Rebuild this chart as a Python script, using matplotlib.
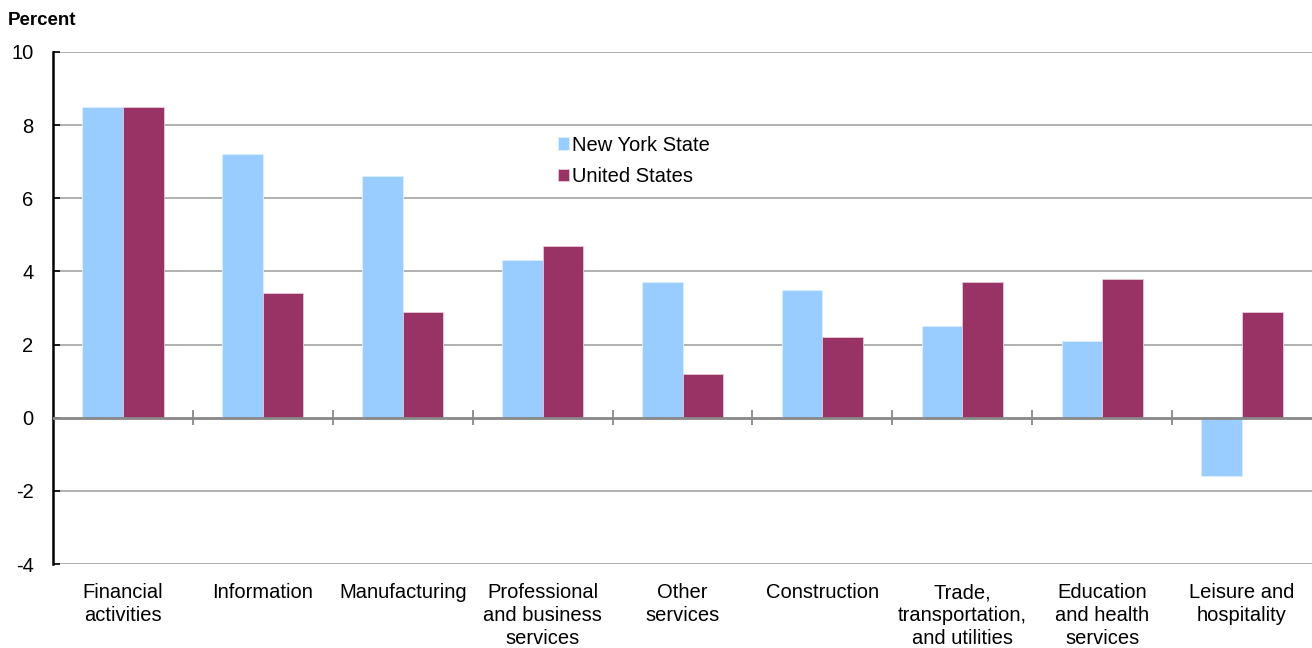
import numpy as np
import matplotlib.pyplot as plt

plt.rcParams['font.family'] = ['Liberation Sans', 'DejaVu Sans']

categories = ['Financial\nactivities', 'Information', 'Manufacturing',
              'Professional\nand business\nservices', 'Other\nservices',
              'Construction', 'Trade,\ntransportation,\nand utilities',
              'Education\nand health\nservices', 'Leisure and\nhospitality']
new_york = [8.5, 7.2, 6.6, 4.3, 3.7, 3.5, 2.5, 2.1, -1.6]
united_states = [8.5, 3.4, 2.9, 4.7, 1.2, 2.2, 3.7, 3.8, 2.9]
y_ticks = [-4, -2, 0, 2, 4, 6, 8, 10]

fig = plt.figure(figsize=(13.12, 6.48), dpi=100)
ax = fig.add_axes([0.0404, 0.1296, 0.9596, 0.7902])

x = np.arange(len(categories))
w = 0.29
ax.bar(x - w / 2, new_york, w, color='#99CCFF', edgecolor='#DDEEFF', linewidth=0.6,
       label='New York State', zorder=3)
ax.bar(x + w / 2, united_states, w, color='#993366', edgecolor='#E8C8D8', linewidth=0.6,
       label='United States', zorder=3)

ax.set_xlim(-0.5, len(categories) - 0.5)
ax.set_ylim(-4, 10)
ax.set_yticks(y_ticks)
ax.set_yticklabels([str(v) for v in y_ticks], fontsize=14.5)
ax.set_xticks(x)
ax.set_xticklabels(categories, fontsize=14.5, linespacing=1.25)
ax.tick_params(axis='x', length=0, pad=14)
ax.tick_params(axis='y', length=5, width=1.2, direction='in', pad=14)

for v in y_ticks:
    if v != 0:
        ax.axhline(v, color='#AAAAAA', linewidth=1.3, zorder=1)
ax.axhline(0, color='#888888', linewidth=2, zorder=4)
ax.vlines(x[1:] - 0.5, -0.2, 0.2, color='#888888', linewidth=1.3, zorder=4)

for s in ['top', 'right', 'bottom']:
    ax.spines[s].set_visible(False)
ax.spines['left'].set_linewidth(1.8)

fig.text(0.006, 0.968, 'Percent', fontsize=13.5, fontweight='bold', va='center')

ax.legend(loc='upper left', bbox_to_anchor=(0.387, 0.872), frameon=False, fontsize=14.5,
          handlelength=0.55, handleheight=0.55, handletextpad=0.15, labelspacing=0.62)

fig.savefig('out.png', dpi=100)
